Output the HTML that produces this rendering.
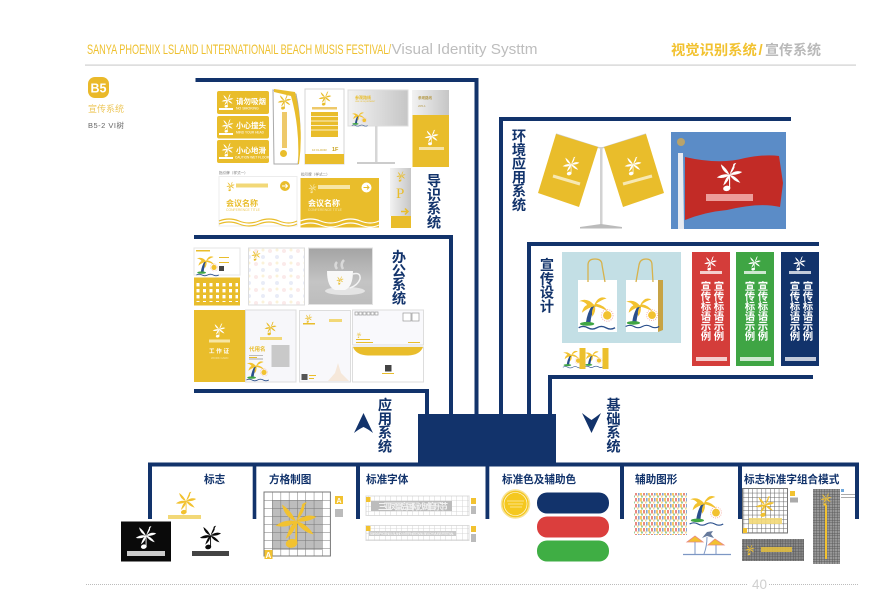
<!DOCTYPE html>
<html><head><meta charset="utf-8"><style>
html,body{margin:0;padding:0;background:#fff;width:886px;height:600px;overflow:hidden}
svg{display:block}
text{font-family:"Liberation Sans","Noto Sans CJK SC",sans-serif}
.v{writing-mode:vertical-rl;font-weight:700;font-size:14.2px;letter-spacing:-.4px;fill:#12336b}
.b{font-weight:700;font-size:10.6px;fill:#12336b}
.w{writing-mode:vertical-rl;font-weight:700;font-size:10.4px;letter-spacing:-.4px;fill:#fff}
.t{font-weight:700}
</style></head><body>
<svg width="886" height="600" viewBox="0 0 886 600" xmlns="http://www.w3.org/2000/svg">
<defs>
<symbol id="l" viewBox="0 0 60 66"><path d="M30 28Q14 22 11 5Q24 14 30 28ZM30 28Q16 24 2 34Q20 38 30 28ZM30 28Q22 32 16 52Q30 42 30 28ZM30 28Q34 16 38 8Q37 3 45 2Q40 8 41 12Q38 20 30 28ZM30 28Q44 16 58 22Q46 30 30 28ZM30 28Q44 30 54 46Q38 42 30 28Z"/><rect x="29" y="28" width="2.4" height="30"/><ellipse cx="24" cy="58" rx="8" ry="6" transform="rotate(-12 24 58)"/></symbol>
<symbol id="p" viewBox="0 0 60 60"><path d="M22 20Q14 32 12 48L19 48Q20 34 27 22Z" fill="#2a4f8c"/><path d="M25 20Q14 8 2 14Q10 14 14 20Q8 22 6 32Q16 24 25 22Q20 28 22 38Q28 30 26 22Q36 24 46 30Q40 20 28 18Q36 12 44 10Q32 4 25 20Z" fill="#f2c230"/><ellipse cx="14" cy="49" rx="11" ry="3" fill="#3fa544"/><path d="M1 55q7-4 14 0t14 0t14 0t14 0" fill="none" stroke="#2a4f8c" stroke-width="2"/><circle cx="45" cy="36" r="6.500" fill="#f2c230"/><circle cx="45" cy="36" r="9" fill="none" stroke="#f3a9a0" stroke-width="1.500" stroke-dasharray="1.500 2"/></symbol>
<pattern id="g8" width="8.3" height="8" patternUnits="userSpaceOnUse" x="264" y="492"><path d="M0 0H8.3M0 0V8" stroke="#777" stroke-width="1" fill="none"/></pattern>
<pattern id="gd" width="4.4" height="4.4" patternUnits="userSpaceOnUse"><path d="M0 0H4.4M0 0V4.4" stroke="#666" stroke-width="1" fill="none"/></pattern>
<pattern id="gf" width="2.6" height="2.6" patternUnits="userSpaceOnUse"><path d="M0 0H2.6M0 0V2.6" stroke="#555" stroke-width=".9" fill="none"/></pattern>
<pattern id="gl" width="5.5" height="5.5" patternUnits="userSpaceOnUse"><path d="M0 0H5.5M0 0V5.5" stroke="#ccc" stroke-width=".8" fill="none"/></pattern>
<pattern id="dots" width="8" height="6" patternUnits="userSpaceOnUse"><rect x="0" y="0" width="2" height="3.5" fill="#f5c86a"/><rect x="3" y="0" width="2" height="3.5" fill="#e98b80"/><rect x="6" y="0" width="1.6" height="3.5" fill="#86a6d3"/><rect x="1" y="3.5" width="2" height="2" fill="#9ccc9c"/><rect x="5" y="3.5" width="1.6" height="2" fill="#f4dc90"/></pattern>
<pattern id="np" width="14" height="13" patternUnits="userSpaceOnUse"><circle cx="4" cy="4" r="2" fill="#fbeaea"/><circle cx="11" cy="10" r="2" fill="#e8ecf7"/><circle cx="11" cy="3" r="1.5" fill="#fbf2d8"/></pattern>
<pattern id="wh" width="6.5" height="6" patternUnits="userSpaceOnUse"><rect x="1.5" y="1" width="3" height="3.4" fill="#fff"/></pattern>
<linearGradient id="gs" x1="0" y1="0" x2="1" y2="0"><stop offset="0" stop-color="#f2f2f2"/><stop offset="1" stop-color="#c6c6c6"/></linearGradient>
<linearGradient id="gc" x1="0" y1="0" x2="0" y2="1"><stop offset="0" stop-color="#a4a4a4"/><stop offset=".6" stop-color="#c4c4c4"/><stop offset="1" stop-color="#bdbdbd"/></linearGradient>
</defs>

<!-- header -->
<text x="87" y="54" font-size="14" fill="#eec02e" textLength="304" lengthAdjust="spacingAndGlyphs">SANYA PHOENIX LSLAND LNTERNATIONAIL BEACH MUSIS FESTIVAL/</text>
<text x="391.500" y="54" font-size="15" fill="#bdbdbd" textLength="146" lengthAdjust="spacingAndGlyphs">Visual Identity Systtm</text>
<text x="671" y="55" font-size="14.300" class="t" fill="#f2c230">视觉识别系统</text>
<text x="758.500" y="55" font-size="15" class="t" fill="#f2c230">/</text>
<text x="765" y="55" font-size="14" class="t" fill="#b9b9b9">宣传系统</text>
<rect x="85" y="64.500" width="771" height="1.200" fill="#cfcfcf"/>
<rect x="88" y="77" width="21" height="21" rx="7" fill="#eab92a"/>
<text x="90.500" y="92.500" font-size="13" class="t" fill="#fff" textLength="16" lengthAdjust="spacingAndGlyphs">B5</text>
<text x="88" y="112" font-size="9" fill="#edc75a">宣传系统</text>
<text x="88" y="128" font-size="7.500" fill="#666" letter-spacing=".5">B5-2 VI树</text>

<!-- connectors -->
<g fill="#12336b">
<rect x="195.500" y="78" width="283" height="4"/><rect x="474.500" y="78" width="4" height="340"/>
<rect x="194" y="235" width="259" height="4"/><rect x="449" y="235" width="4" height="183"/>
<rect x="194" y="389" width="235" height="4"/><rect x="425" y="389" width="4" height="29"/>
<rect x="499" y="117" width="292" height="4"/><rect x="499" y="117" width="4" height="300"/>
<rect x="527" y="242" width="292" height="4"/><rect x="527" y="242" width="4" height="175"/>
<rect x="548" y="375" width="265" height="4"/><rect x="548" y="375" width="4" height="42"/>
<rect x="418" y="414" width="138" height="50"/>
<rect x="148" y="462.500" width="711" height="4"/>
<rect x="148" y="462.500" width="4" height="56.500"/><rect x="252.700" y="462.500" width="3.600" height="56.500"/><rect x="356" y="462.500" width="4" height="56.500"/><rect x="485.500" y="462.500" width="3.800" height="56.500"/><rect x="620" y="462.500" width="4" height="56.500"/><rect x="738" y="462.500" width="4" height="56.500"/><rect x="855" y="462.500" width="4" height="56.500"/>
<path d="M363.500 413L354 433Q359 429 363.500 427Q368 429 373 433Z"/>
<path d="M582 413Q587 417 591.500 420Q596 417 601 413L591.500 433Z"/>
</g>

<!-- vertical labels -->
<text class="v" x="433" y="173.500">导识系统</text>
<text class="v" x="518" y="128.500">环境应用系统</text>
<text class="v" x="398" y="249.500">办公系统</text>
<text class="v" x="546" y="257.500">宣传设计</text>
<text class="v" x="384" y="397.500">应用系统</text>
<text class="v" x="612.500" y="397.500">基础系统</text>

<!-- guide signs -->
<g fill="#e9bd2b">
<rect x="217" y="91" width="52" height="23" rx="2"/><rect x="217" y="116" width="52" height="22.500" rx="2"/><rect x="217" y="140" width="52" height="23" rx="2"/>
</g>
<g fill="#fff">
<use href="#l" x="221" y="94" width="13" height="14"/><use href="#l" x="221" y="119" width="13" height="14"/><use href="#l" x="221" y="143" width="13" height="14"/>
<rect x="219" y="108" width="14" height="2"/><rect x="219" y="133" width="14" height="2"/><rect x="219" y="157" width="14" height="2"/>
<text x="236" y="104" font-size="7.500" class="t">请勿吸烟</text><text x="236" y="109.500" font-size="3.500">NO SMOKING</text>
<text x="236" y="128" font-size="7.500" class="t">小心撞头</text><text x="236" y="133.500" font-size="3.200">MIND YOUR HEAD</text>
<text x="236" y="153" font-size="7.500" class="t">小心地滑</text><text x="235" y="158.500" font-size="3.200">CAUTION WET FLOOR</text>
</g>
<path d="M273 90L296 94Q303 128 298 164H274Z" fill="#fff" stroke="#aaa" stroke-width="1"/>
<path d="M274 89L295 92Q304 128 299 164L298 164Q300 128 291 96L274 92Z" fill="#e9bd2b"/>
<use href="#l" x="277" y="94" fill="#e9bd2b" width="15" height="16"/>
<rect x="282" y="112" width="5" height="36" fill="#eec96a"/><circle cx="283.500" cy="153.500" r="3.500" fill="#e9bd2b"/>
<rect x="305" y="89" width="39" height="75" fill="#fff" stroke="#d4d4d4"/><rect x="305" y="154" width="39" height="10" fill="#e9bd2b"/>
<use href="#l" x="318" y="91" fill="#e9bd2b" width="14" height="15"/><rect x="312" y="107" width="25" height="2.500" fill="#eec96a"/>
<rect x="311" y="112" width="27" height="25" fill="#e9bd2b"/><path d="M311 116.500h27M311 121h27M311 125.500h27M311 130h27" stroke="#fff" stroke-width=".8"/>
<text x="312" y="151" font-size="3" fill="#c9a21f">1F FLOOR</text><text x="332" y="151" font-size="5.500" class="t" fill="#c9a21f">1F</text>
<rect x="348" y="90" width="60" height="36" fill="url(#gs)" stroke="#ddd"/>
<rect x="375" y="126" width="2.500" height="37" fill="#d6d6d6"/><rect x="357" y="162" width="38" height="2" fill="#ccc"/>
<text x="355" y="99" font-size="4" class="t" fill="#e9bd2b">参观路线</text><text x="355" y="102" font-size="2" fill="#e9bd2b">LINE OF EQUIPMENT</text>
<use href="#p" x="348" y="110" width="24" height="17"/>
<rect x="412" y="90" width="37" height="25" fill="url(#gs)"/><rect x="412.500" y="115" width="36.500" height="52" fill="#e9bd2b"/>
<text x="418" y="99" font-size="3.500" class="t" fill="#b49a4a">参观路线</text><text x="418" y="107" font-size="3" fill="#b49a4a">205-1</text>
<use href="#l" x="424" y="129" fill="#fff" width="15" height="17"/><rect x="419" y="147" width="25" height="3" fill="#f6e4a8"/>

<!-- conference -->
<text x="219" y="174" font-size="3.600" fill="#777">指引牌（样式一）</text><text x="301" y="175.500" font-size="3.600" fill="#777">指引牌（样式二）</text>
<rect x="219" y="176.500" width="78" height="49.500" fill="#fff" stroke="#ececec"/><rect x="300.500" y="178" width="78.500" height="49.500" fill="#e9bd2b"/>
<use href="#l" x="226" y="181" fill="#e9bd2b" width="9" height="11"/><rect x="236" y="183.500" width="32" height="4" fill="#f2d877"/>
<circle cx="285" cy="186" r="5" fill="#e9bd2b"/><path d="M282 186h5.500M285.500 184l2 2l-2 2" stroke="#fff" stroke-width="1" fill="none"/>
<text x="226" y="206" font-size="8" class="t" fill="#e9bd2b">会议名称</text><text x="226" y="211" font-size="3.400" fill="#ecc95a">CONFERENCE TITLE</text>
<path d="M219 221q10-4 20 0t20 0t20 0t18 0M219 224q10-4 20 0t20 0t20 0t18 0" fill="none" stroke="#e9bd2b" stroke-width="1.200"/>
<use href="#l" x="308" y="183" fill="#f7e6a4" width="9" height="11"/><rect x="318" y="185" width="32" height="4" fill="#f7e6a4"/>
<circle cx="366.500" cy="187.500" r="5" fill="#fff"/><path d="M363.500 187.500h5.500M367 185.500l2 2l-2 2" stroke="#e9bd2b" stroke-width="1" fill="none"/>
<text x="308" y="206" font-size="8" class="t" fill="#fff">会议名称</text><text x="308" y="211" font-size="3.400" fill="#f7e6a4">CONFERENCE TITLE</text>
<path d="M300.500 221q10-4 20 0t20 0t20 0t18.500 0M300.500 225q10-4 20 0t20 0t20 0t18.500 0" fill="none" stroke="#fff" stroke-width="1.200"/>
<rect x="390" y="168" width="21" height="48" fill="url(#gs)"/><rect x="391" y="216" width="20" height="12" fill="#e9bd2b"/>
<use href="#l" x="396" y="171" fill="#e9bd2b" width="10" height="11"/><text x="396" y="198" font-size="15" fill="#e9bd2b" style="font-family:'Liberation Serif',serif">P</text>
<path d="M401 211.500h7M405 208.500l3 3l-3 3" stroke="#e9bd2b" stroke-width="1.500" fill="none"/>

<!-- office -->
<rect x="194" y="248" width="46" height="27" fill="#fff" stroke="#e5e5e5"/><rect x="194" y="277.500" width="46" height="28" fill="#e9bd2b"/>
<use href="#p" x="194" y="253" width="28" height="24"/><rect x="196" y="250" width="14" height="1.500" fill="#e9bd2b"/>
<rect x="219" y="257" width="10" height="1" fill="#e9bd2b"/><rect x="219" y="262" width="10" height="1" fill="#e9bd2b"/><rect x="219" y="266" width="5" height="5" fill="#444"/>
<rect x="196" y="282" width="42" height="20" fill="url(#wh)"/>
<rect x="248.500" y="248" width="56" height="57" fill="#fff" stroke="#ddd"/><rect x="249" y="248.500" width="55" height="56" fill="url(#np)"/><use href="#l" x="251" y="250" fill="#e9bd2b" width="10" height="11"/>
<rect x="308.500" y="248" width="64" height="56.500" fill="url(#gc)" stroke="#e2e2e2"/>
<ellipse cx="345" cy="291" rx="20" ry="4" fill="#e4e4e4"/><path d="M327 271h26q0 16-8 19h-10q-8-3-8-19Z" fill="#f8f8f8"/><path d="M353 274q8-2 7 5q-2 6-10 9" fill="none" stroke="#f3f3f3" stroke-width="1.500"/><path d="M337 269q-3-4 0-7M343 269q-3-5 1-9" stroke="#d9d9d9" stroke-width="2.500" fill="none"/><use href="#l" x="336" y="276" fill="#e9bd2b" width="8" height="9"/>
<rect x="245.500" y="310" width="50.500" height="72" fill="#f7f7fa" stroke="#ddd"/><rect x="194" y="310" width="51" height="72" fill="#e9bd2b"/>
<use href="#l" x="212" y="323" fill="#fff" width="14" height="15"/><rect x="209" y="339.500" width="21" height="3" fill="#f7e6a4"/><text x="209" y="353" font-size="5.500" class="t" fill="#fff" textLength="20">工作证</text>
<text x="211" y="359" font-size="2.800" fill="#f7e6a4">WORK CARD</text>
<use href="#l" x="264" y="321" fill="#e9bd2b" width="13" height="15"/><rect x="260" y="337" width="22" height="3" fill="#f2d877"/>
<text x="249" y="351" font-size="5.500" class="t" fill="#e9bd2b">代用名</text><rect x="249" y="355" width="14" height="1" fill="#bbb"/>
<rect x="271.500" y="345" width="18" height="22" fill="#c9c9c9"/><rect x="249" y="357" width="8" height="1" fill="#e9bd2b"/><rect x="249" y="358.500" width="14" height="1" fill="#aaa"/>
<use href="#p" x="245" y="358" width="26" height="24"/>
<rect x="299.500" y="310.500" width="51" height="71.500" fill="#f8f8fb" stroke="#ddd"/><use href="#l" x="304" y="314" fill="#e9bd2b" width="9" height="9"/><rect x="303" y="323" width="12" height="1.500" fill="#e9bd2b"/><rect x="329" y="319" width="13" height="3" fill="#f2d877"/>
<rect x="301.500" y="374" width="6" height="6" fill="#555"/><rect x="309" y="375" width="7" height="1" fill="#e9bd2b"/><rect x="309" y="378" width="5" height="1" fill="#e9bd2b"/>
<path d="M328 381l7-8 3-10 3 10 8 8Z" fill="#f6e8da"/>
<rect x="352.500" y="310" width="71" height="35" fill="#f9f9fc" stroke="#ddd"/><rect x="352.500" y="347" width="71" height="35" fill="#fff" stroke="#ddd"/>
<path d="M353 347h70q-3 8-15 8.500h-40q-12-.5-15-8.500Z" fill="#e9bd2b"/>
<g fill="#fff" stroke="#999" stroke-width=".7"><rect x="355" y="312" width="3" height="3"/><rect x="359" y="312" width="3" height="3"/><rect x="363" y="312" width="3" height="3"/><rect x="367" y="312" width="3" height="3"/><rect x="371" y="312" width="3" height="3"/><rect x="375" y="312" width="3" height="3"/><rect x="403" y="313" width="8" height="8"/><rect x="412" y="313" width="7" height="8"/></g>
<use href="#l" x="356" y="332" fill="#e9bd2b" width="6" height="6"/><rect x="356" y="339" width="14" height="1" fill="#e9bd2b"/><rect x="356" y="342" width="17" height="1" fill="#e9bd2b"/><rect x="408" y="342" width="12" height="1" fill="#e9bd2b"/>
<rect x="385" y="365" width="6.500" height="6.500" fill="#444"/><rect x="382" y="373" width="12" height="1" fill="#e9bd2b"/>

<!-- flags -->
<rect x="600" y="147" width="2.500" height="80" fill="#d2d2d2"/><path d="M580 227l21-3 21 3v1.500h-42Z" fill="#bbb"/><path d="M556 134l44 14M646 134l-44 14" stroke="#ccc" stroke-width="1.200"/>
<path d="M556 134L598 147L579 207L538 193Z" fill="#e9bd2b"/><path d="M646 134L604 147L623 207L664 193Z" fill="#e9bd2b"/>
<g fill="#fff"><use href="#l" x="562" y="156" width="18" height="20"/><use href="#l" x="624" y="156" width="18" height="20"/></g>
<path d="M553 176l27 8M623 184l29-8" stroke="#f7e8b2" stroke-width="3"/>
<rect x="671" y="132" width="115" height="97" fill="#5b8cc7"/>
<path d="M685 157Q720 165 745 158Q765 154 779 156L783 183L780 207Q760 202 727 210Q705 212 685 220Z" fill="#c22b26"/>
<path d="M678 153h5l1 76h-6Z" fill="#e8ebf1"/><circle cx="681" cy="142" r="4" fill="#b9a36a"/>
<use href="#l" x="715" y="162" fill="#fff" width="29" height="30"/><rect x="706" y="194" width="47" height="7" fill="#ec9d9a"/>

<!-- bags & banners -->
<rect x="562" y="252" width="119" height="91" fill="#c3dfe5"/>
<rect x="578" y="280" width="39" height="52" fill="#fff"/><rect x="626" y="280" width="32" height="52" fill="#fff"/><path d="M658 280l5 0v50l-5 2Z" fill="#c7a344"/>
<path d="M588 282v-17q0-6 7-6t7 6l3 17M636 282l3-17q1-6 7-6t6 6l1 17" fill="none" stroke="#d7b24c" stroke-width="1.300"/>
<use href="#p" x="578" y="291" width="39" height="41"/><use href="#p" x="625" y="291" width="36" height="41"/>
<use href="#p" x="562" y="348" width="22" height="21"/><use href="#p" x="584" y="348" width="20" height="21"/><rect x="579.500" y="348" width="6" height="21" fill="#ecc02e"/><rect x="602.500" y="348" width="6" height="21" fill="#ecc02e"/>
<rect x="692" y="252" width="38" height="114" fill="#d43d3a"/><rect x="736" y="252" width="38" height="114" fill="#3fa544"/><rect x="781" y="252" width="38" height="114" fill="#12336b"/>
<g fill="#fff">
<use href="#l" x="703" y="256" width="15" height="15"/><use href="#l" x="747" y="256" width="15" height="15"/><use href="#l" x="792" y="256" width="15" height="15"/>
<rect x="700" y="271" width="22" height="3" opacity=".75"/><rect x="744" y="271" width="22" height="3" opacity=".75"/><rect x="789" y="271" width="22" height="3" opacity=".75"/>
<rect x="696" y="357" width="31" height="4" opacity=".75"/><rect x="740" y="357" width="31" height="4" opacity=".75"/><rect x="785" y="357" width="31" height="4" opacity=".75"/>
</g>
<text class="w" x="704" y="281">宣传标语示例</text><text class="w" x="717" y="281">宣传标语示例</text>
<text class="w" x="748" y="281">宣传标语示例</text><text class="w" x="761" y="281">宣传标语示例</text>
<text class="w" x="793" y="281">宣传标语示例</text><text class="w" x="806" y="281">宣传标语示例</text>

<!-- bottom labels -->
<text class="b" x="204" y="483">标志</text>
<text class="b" x="269" y="483">方格制图</text>
<text class="b" x="366" y="483">标准字体</text>
<text class="b" x="502" y="483">标准色及辅助色</text>
<text class="b" x="635" y="483">辅助图形</text>
<text class="b" x="744" y="483">标志标准字组合模式</text>

<!-- logos -->
<use href="#l" x="175" y="491" fill="#f2c230" width="22" height="24"/><rect x="168" y="515" width="33" height="4" fill="#f2d877"/>
<rect x="121" y="521.500" width="50" height="40" fill="#0a0a0a"/><use href="#l" x="135" y="525" fill="#fff" width="22" height="25"/><rect x="127" y="551" width="38" height="5" fill="#ccc"/>
<use href="#l" x="199" y="525" fill="#0a0a0a" width="23" height="25"/><rect x="192" y="551" width="37" height="5" fill="#444"/>
<rect x="272" y="500" width="50" height="50" fill="#bdbdbd"/><rect x="264" y="492" width="66.400" height="64" fill="url(#g8)" stroke="#777"/>
<use href="#l" x="274" y="500" fill="#f2c230" width="44" height="50"/>
<rect x="264.500" y="550" width="8" height="9" fill="#f2c230"/><text x="265.500" y="558" font-size="8" class="t" fill="#fff">A</text>
<rect x="335" y="496" width="8" height="8" fill="#f2c230"/><text x="336.500" y="503" font-size="7" class="t" fill="#fff">A</text><rect x="335" y="509" width="8" height="8" fill="#bbb"/>

<!-- fonts grids -->
<rect x="366" y="496" width="103" height="19.500" fill="#fff" stroke="#ddd"/><rect x="366" y="496" width="103" height="19.500" fill="url(#gl)"/>
<rect x="371" y="501" width="81" height="10" fill="#bcbcbc"/><text x="378" y="509.500" font-size="8.500" class="t" fill="#f2f2f2" textLength="70">三亚凤凰岛国际沙滩音乐节</text>
<rect x="366" y="525.500" width="103" height="15" fill="#fff" stroke="#ddd"/><rect x="366" y="525.500" width="103" height="15" fill="url(#gl)"/>
<rect x="369" y="531" width="87" height="5" fill="#c9c9c9"/><text x="370" y="534.800" font-size="3.200" fill="#fff" textLength="84">SANYA PHOENIX LSLAND LNTERNATIONAIL BEACH MUSIS FESTIVAL</text>
<rect x="366" y="497" width="4.500" height="5" fill="#f2c230"/><rect x="366" y="526" width="4.500" height="5" fill="#f2c230"/>
<rect x="471" y="498" width="5" height="6" fill="#f2c230"/><rect x="471" y="506" width="5" height="8" fill="#bbb"/><rect x="471" y="526" width="5" height="6" fill="#f2c230"/><rect x="471" y="534" width="5" height="8" fill="#bbb"/>

<!-- colours -->
<circle cx="515.500" cy="504" r="14" fill="#f5c81f" stroke="#f7e39a" stroke-width="1.500"/><circle cx="515.500" cy="504" r="11.500" fill="none" stroke="#fff" stroke-width=".6"/><path d="M507 501h17M508 504h15M510 507h12" stroke="#fbeaae" stroke-width=".7"/>
<rect x="537" y="492.500" width="72" height="21" rx="10" fill="#12336b"/><rect x="537" y="516.500" width="72" height="21" rx="10" fill="#db3e3d"/><rect x="537" y="540.500" width="72" height="21" rx="10" fill="#3fae44"/>

<!-- aux graphics -->
<rect x="634" y="493" width="53" height="42" fill="url(#dots)"/>
<use href="#p" x="689" y="491" width="36" height="36"/>
<path d="M683 554.500h48" stroke="#7d97c4" stroke-width="1.200"/><path d="M687 542l8-6 8 6Z" fill="#f2c230" stroke="#e98b80" stroke-width=".8"/><path d="M708 545l7-6 9 6Z" fill="#f2c230" stroke="#e98b80" stroke-width=".8"/><path d="M695 542v12M716 545v9M704 554q3-8 3-17" stroke="#7d97c4" stroke-width="1" fill="none"/><path d="M707 536l-5 2 5-6 6-1-2 3 3 4Z" fill="#667a9c"/>

<!-- lockups -->
<rect x="742.500" y="488.500" width="45" height="44.500" fill="url(#gd)" stroke="#777"/><use href="#l" x="755" y="495" fill="#f2c230" width="20" height="23"/><rect x="749" y="518" width="33" height="6" fill="#f2d877" opacity=".9"/><rect x="743" y="528" width="4" height="5" fill="#f2c230"/>
<rect x="790" y="491" width="5" height="5" fill="#f2c230"/><rect x="790" y="497.500" width="8" height="5" fill="#aaa"/>
<rect x="742" y="539" width="62" height="22" fill="#888"/><rect x="742" y="539" width="62" height="22" fill="url(#gf)"/><use href="#l" x="745" y="544" fill="#f2c230" width="10" height="12"/><rect x="761" y="547" width="31" height="5" fill="#e6c140" opacity=".85"/>
<rect x="813" y="489" width="27" height="75" fill="#999"/><rect x="813" y="489" width="27" height="75" fill="url(#gf)"/><use href="#l" x="820" y="493" fill="#f2c230" width="12" height="13"/><rect x="825" y="505" width="2" height="54" fill="#f2c230"/><rect x="841" y="489" width="3" height="3" fill="#6fa8dc"/><rect x="841" y="494" width="14" height="1" fill="#aaa"/><rect x="841" y="497" width="14" height="1" fill="#aaa"/>

<!-- footer -->
<path d="M86 584.500H747M769 584.500H858" stroke="#bcbcbc" stroke-width="1" stroke-dasharray="1 1"/>
<text x="752" y="589" font-size="13.500" fill="#cfcfcf">40</text>
</svg>
</body></html>
